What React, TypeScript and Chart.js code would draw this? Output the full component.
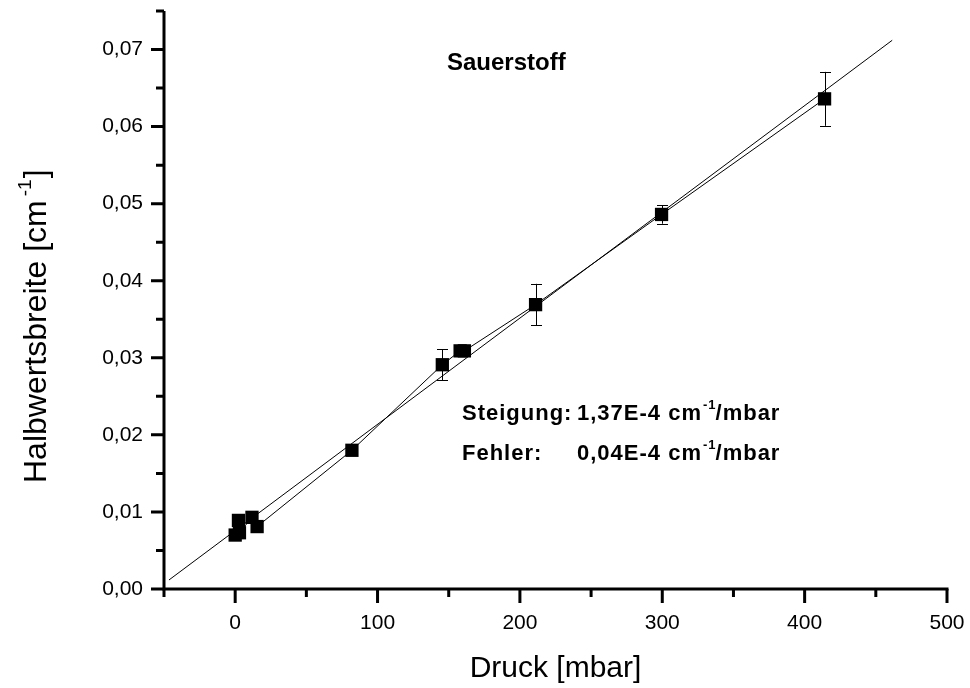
import React, { useEffect, useRef } from 'react';
import { Chart, registerables } from 'chart.js';

Chart.register(...registerables);

// ---- data ----
const pressure = [0, 2.3, 3, 11.8, 15.4, 82, 145.5, 158, 161, 211, 299.5, 414];
const halfWidth = [0.0070, 0.0089, 0.0073, 0.0093, 0.0081, 0.0180, 0.0291, 0.0309, 0.0309, 0.0369, 0.0486, 0.0636];
const halfWidthError = [0, 0, 0, 0, 0, 0, 0.0020, 0, 0, 0.0027, 0.0012, 0.0035];

const fitPressure = [-46.5, 461.5];
const fitWidth = [0.00117, 0.0712];

const xMajorTicks = [0, 100, 200, 300, 400, 500];
const xMajorLabels = ['0', '100', '200', '300', '400', '500'];
const xMinorTicks = [-50, 50, 150, 250, 350, 450];
const yMajorTicks = [0, 0.01, 0.02, 0.03, 0.04, 0.05, 0.06, 0.07];
const yMajorLabels = ['0,00', '0,01', '0,02', '0,03', '0,04', '0,05', '0,06', '0,07'];
const yMinorTicks = [0.005, 0.015, 0.025, 0.035, 0.045, 0.055, 0.065, 0.075];

const xTitle = 'Druck [mbar]';
const yTitleMain = 'Halbwertsbreite [cm';
const yTitleSup = '-1';
const yTitleEnd = ']';
const plotLabel = 'Sauerstoff';
const slopeLabel = ['Steigung:', '1,37E-4 cm', '-1', '/mbar'];
const errorLabel = ['Fehler:', '0,04E-4 cm', '-1', '/mbar'];

const FONT = '"Liberation Sans", Arial, Helvetica, sans-serif';

const near = (a: number, b: number) => Math.abs(a - b) < 1e-9;

const originPlugin = {
  id: 'originStyle',
  beforeDatasetsDraw(chart: any) {
    const ctx = chart.ctx;
    const xs = chart.scales.x;
    const ys = chart.scales.y;
    ctx.save();
    ctx.strokeStyle = '#000';
    ctx.lineWidth = 1;
    for (let i = 0; i < pressure.length; i++) {
      const e = halfWidthError[i];
      if (!e) continue;
      const px = Math.round(xs.getPixelForValue(pressure[i])) + 0.5;
      const top = ys.getPixelForValue(halfWidth[i] + e);
      const bot = ys.getPixelForValue(halfWidth[i] - e);
      ctx.beginPath();
      ctx.moveTo(px, top);
      ctx.lineTo(px, bot);
      ctx.moveTo(px - 5.5, Math.round(top) + 0.5);
      ctx.lineTo(px + 5.5, Math.round(top) + 0.5);
      ctx.moveTo(px - 5.5, Math.round(bot) + 0.5);
      ctx.lineTo(px + 5.5, Math.round(bot) + 0.5);
      ctx.stroke();
    }
    ctx.restore();
  },
  afterDraw(chart: any) {
    const ctx = chart.ctx;
    const xs = chart.scales.x;
    const ys = chart.scales.y;
    const area = chart.chartArea;
    ctx.save();
    ctx.strokeStyle = '#000';
    ctx.fillStyle = '#000';
    ctx.lineWidth = 3;
    ctx.lineCap = 'butt';

    const axisY = ys.getPixelForValue(0);
    const axisX = xs.getPixelForValue(-50);
    // axes lines
    ctx.beginPath();
    ctx.moveTo(axisX, ys.getPixelForValue(0.075));
    ctx.lineTo(axisX, axisY + 1.5);
    ctx.moveTo(axisX - 1.5, axisY);
    ctx.lineTo(xs.getPixelForValue(500) + 1.5, axisY);
    ctx.stroke();
    // x ticks
    ctx.beginPath();
    xMajorTicks.forEach((v) => {
      const p = xs.getPixelForValue(v);
      ctx.moveTo(p, axisY);
      ctx.lineTo(p, axisY + 14);
    });
    xMinorTicks.forEach((v) => {
      const p = xs.getPixelForValue(v);
      ctx.moveTo(p, axisY);
      ctx.lineTo(p, axisY + 8);
    });
    // y ticks
    yMajorTicks.forEach((v) => {
      const p = ys.getPixelForValue(v);
      ctx.moveTo(axisX, p);
      ctx.lineTo(axisX - 13, p);
    });
    yMinorTicks.forEach((v) => {
      const p = ys.getPixelForValue(v);
      ctx.moveTo(axisX, p);
      ctx.lineTo(axisX - 8, p);
    });
    ctx.stroke();

    // x title
    ctx.font = `30px ${FONT}`;
    ctx.textAlign = 'center';
    ctx.textBaseline = 'alphabetic';
    ctx.fillText(xTitle, (area.left + area.right) / 2, 677);

    // y title (rotated, with superscript)
    ctx.save();
    ctx.translate(46, 483);
    ctx.rotate(-Math.PI / 2);
    ctx.textAlign = 'left';
    ctx.font = `32px ${FONT}`;
    ctx.fillText(yTitleMain, 0, 0);
    let w = ctx.measureText(yTitleMain).width + 4;
    ctx.font = `19px ${FONT}`;
    ctx.fillText(yTitleSup, w, -15);
    w += ctx.measureText(yTitleSup).width + 1;
    ctx.font = `32px ${FONT}`;
    ctx.fillText(yTitleEnd, w, 0);
    ctx.restore();

    // plot label
    ctx.textAlign = 'left';
    ctx.font = `bold 24px ${FONT}`;
    ctx.fillText(plotLabel, 447, 70);

    const drawLine = (parts: string[], baseline: number) => {
      (ctx as any).letterSpacing = '1px';
      ctx.font = `bold 22px ${FONT}`;
      ctx.fillText(parts[0], 462, baseline);
      ctx.fillText(parts[1], 577, baseline);
      let x = 577 + ctx.measureText(parts[1]).width + 1;
      ctx.font = `bold 13px ${FONT}`;
      ctx.fillText(parts[2], x, baseline - 11);
      x += ctx.measureText(parts[2]).width - 1;
      ctx.font = `bold 22px ${FONT}`;
      ctx.fillText(parts[3], x, baseline);
      (ctx as any).letterSpacing = '0px';
    };
    drawLine(slopeLabel, 420);
    drawLine(errorLabel, 460);

    ctx.restore();
  },
};

export default function App() {
  const ref = useRef<HTMLCanvasElement | null>(null);
  useEffect(() => {
    if (!ref.current) return;
    const allX = [...xMinorTicks, ...xMajorTicks].sort((a, b) => a - b);
    const allY = [...yMajorTicks, ...yMinorTicks].sort((a, b) => a - b);
    const chart = new Chart(ref.current, {
      type: 'line',
      data: {
        datasets: [
          {
            label: 'Sauerstoff',
            data: pressure.map((p, i) => ({ x: p, y: halfWidth[i] })),
            borderColor: '#000',
            borderWidth: 1,
            backgroundColor: '#000',
            pointStyle: 'rect',
            pointRadius: 9.4,
            pointBorderWidth: 0,
            pointBackgroundColor: '#000',
            tension: 0,
          },
          {
            label: 'Fit',
            data: fitPressure.map((p, i) => ({ x: p, y: fitWidth[i] })),
            borderColor: '#000',
            borderWidth: 1,
            pointRadius: 0,
            tension: 0,
          },
        ],
      },
      options: {
        responsive: false,
        animation: false,
        devicePixelRatio: 1,
        layout: { padding: { top: 11, right: 23, left: 0, bottom: 0 } },
        plugins: { legend: { display: false }, tooltip: { enabled: false }, title: { display: false } },
        scales: {
          x: {
            type: 'linear',
            min: -50,
            max: 500,
            afterBuildTicks: (s: any) => {
              s.ticks = allX.map((v) => ({ value: v }));
            },
            afterFit: (s: any) => {
              s.height = 99;
              s.paddingLeft = 0;
              s.paddingRight = 0;
              s.paddingTop = 0;
              s.paddingBottom = 0;
            },
            grid: { display: false, drawTicks: false },
            border: { display: false },
            ticks: {
              autoSkip: false,
              maxRotation: 0,
              padding: 22,
              color: '#000',
              font: { family: FONT, size: 21 },
              callback: (v: any) => {
                const i = xMajorTicks.findIndex((t) => near(t, Number(v)));
                return i >= 0 ? xMajorLabels[i] : '';
              },
            },
          },
          y: {
            type: 'linear',
            min: 0,
            max: 0.075,
            afterBuildTicks: (s: any) => {
              s.ticks = allY.map((v) => ({ value: v }));
            },
            afterFit: (s: any) => {
              s.width = 164;
              s.paddingLeft = 0;
              s.paddingRight = 0;
              s.paddingTop = 0;
              s.paddingBottom = 0;
            },
            grid: { display: false, drawTicks: false },
            border: { display: false },
            ticks: {
              autoSkip: false,
              padding: 21,
              color: '#000',
              font: { family: FONT, size: 21 },
              callback: (v: any) => {
                const i = yMajorTicks.findIndex((t) => Math.abs(t - Number(v)) < 1e-7);
                return i >= 0 ? yMajorLabels[i] : '';
              },
            },
          },
        },
      },
      plugins: [originPlugin],
    } as any);
    return () => chart.destroy();
  }, []);
  return (
    <div style={{ position: 'absolute', left: 0, top: 0, width: 970, height: 688, background: '#fff' }}>
      <canvas ref={ref} width={970} height={688} style={{ width: 970, height: 688, display: 'block' }} />
    </div>
  );
}
